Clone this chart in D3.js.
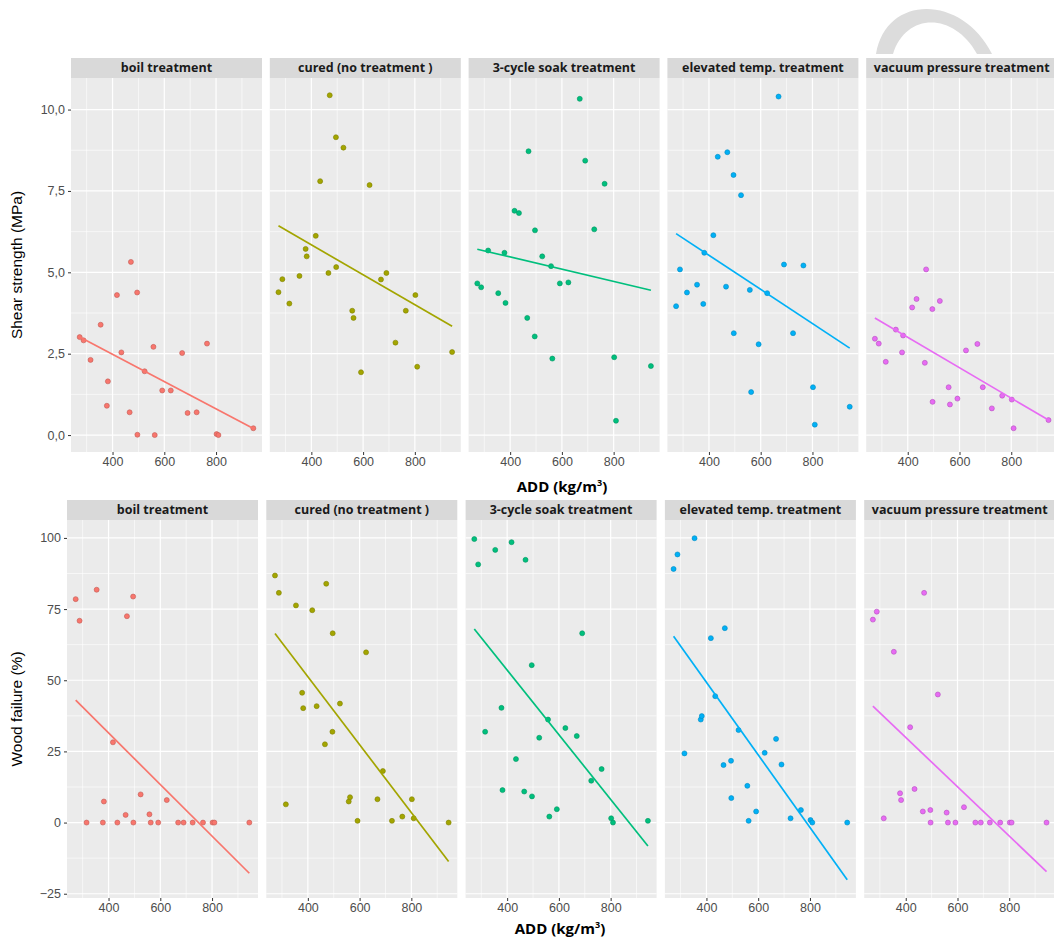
<!DOCTYPE html>
<html><head><meta charset="utf-8">
<script src="https://cdnjs.cloudflare.com/ajax/libs/d3/7.8.5/d3.min.js"></script>
<style>
html,body{margin:0;padding:0;background:#fff;}
svg{display:block;}
</style></head>
<body><svg id="chart" width="1054" height="941"></svg>
<script>
// ---------- data ----------
const treatments = ["boil treatment","cured (no treatment )","3-cycle soak treatment","elevated temp. treatment","vacuum pressure treatment"];
const colors = ["#F8766D","#A3A500","#00BF7D","#00B0F6","#E76BF3"];
const add = [273,288,315,354,378,382,417,434,466,471,495,496,524,558,563,592,625,669,690,725,765,802,809,944];

const shearBoil  = [3.01,2.91,2.31,3.39,0.90,1.65,4.30,2.54,0.70,5.32,4.38,0.01,1.96,2.71,0,1.37,1.37,2.52,0.68,0.70,2.81,0.03,0,0.21];
const shearCured = [4.39,4.79,4.04,4.89,5.72,5.49,6.12,7.80,4.98,10.44,9.15,5.16,8.83,3.82,3.60,1.93,7.68,4.78,4.98,2.84,3.82,4.30,2.10,2.55];
const shearSoak  = [4.66,4.54,5.67,4.36,5.60,4.06,6.89,6.82,3.60,8.72,3.03,6.29,5.49,5.19,2.35,4.66,4.69,10.33,8.43,6.32,7.72,2.39,0.44,2.12];
const shearElev  = [3.96,5.09,4.38,4.62,4.03,5.60,6.14,8.55,4.56,8.69,7.99,3.13,7.37,4.46,1.32,2.79,4.36,10.40,5.24,3.13,5.21,1.47,0.32,0.87];
const shearVac   = [2.96,2.81,2.25,3.24,2.54,3.06,3.92,4.18,2.22,5.09,3.87,1.02,4.12,1.47,0.94,1.12,2.60,2.80,1.47,0.82,1.21,1.09,0.21,0.46];

const woodBoil  = [78.5,70.9,0,81.8,0,7.4,28.2,0,2.7,72.5,79.4,0,9.9,2.9,0,0,7.9,0,0,0,0,0,0,0];
const woodCured = [86.8,80.7,6.4,76.3,45.6,40.2,74.6,40.9,27.5,83.9,31.9,66.5,41.8,7.4,8.9,0.6,59.8,8.2,18.1,0.6,2.1,8.2,1.5,0];
const woodSoak  = [99.6,90.7,31.9,95.8,40.3,11.4,98.5,22.3,10.9,92.3,55.3,9.2,29.8,36.2,2.1,4.7,33.2,30.4,66.5,14.7,18.8,1.5,0,0.6];
const woodElev  = [89.1,94.2,24.3,99.9,36.2,37.4,64.8,44.4,20.2,68.3,21.7,8.6,32.5,12.9,0.6,3.9,24.5,29.4,20.4,1.5,4.4,0.9,0,0];
const woodVac   = [71.3,74.1,1.5,60.0,10.3,7.9,33.5,11.8,3.9,80.7,4.4,0,45.0,3.5,0,0,5.4,0,0,0,0,0,0,0];

// fitted (lm) line values at min and max ADD
const shearFitStart = [3.01,6.43,5.71,6.19,3.60];
const shearFitEnd   = [0.20,3.34,4.45,2.67,0.46];
const woodFitStart  = [43.0,66.4,68.0,65.5,40.9];
const woodFitEnd    = [-17.8,-13.7,-8.2,-20.1,-17.2];

const xTicks = [400,600,800];
const xMinor = [300,500,700,900];
const shearTicks = [0,2.5,5,7.5,10];
const woodTicks = [-25,0,25,50,75,100];

// ---------- drawing ----------
const svg = d3.select("#chart");

// light gray arc mark at top right
svg.append("path")
  .attr("d","M876,54 C886,-6 962,-6 992,54 L977,54 C954,12 906,12 893,54 Z")
  .attr("fill","#dcdcdc");

const xExt = d3.extent(add);
const xPad = (xExt[1]-xExt[0])*0.05;
const xDomain = [xExt[0]-xPad, xExt[1]+xPad];
const tickFont = "'Liberation Sans', Arial, sans-serif";

function drawRow(cfg){
  const g = svg.append("g");
  const y = d3.scaleLinear().domain(cfg.yDomain).range([cfg.top+cfg.h, cfg.top]);
  cfg.series.forEach((vals,i)=>{
    const x0 = cfg.x0 + i*cfg.step;
    const x = d3.scaleLinear().domain(xDomain).range([x0, x0+cfg.w]);
    const p = g.append("g");
    // strip
    p.append("rect").attr("x",x0).attr("y",cfg.top-cfg.stripH).attr("width",cfg.w).attr("height",cfg.stripH).attr("fill","#D9D9D9");
    p.append("text").attr("x",x0+cfg.w/2).attr("y",cfg.top-cfg.stripH/2).attr("dy","0.35em")
      .attr("text-anchor","middle").attr("font-family","'Open Sans', sans-serif").attr("font-weight","700")
      .attr("font-size","12.5px").attr("fill","#1A1A1A").text(treatments[i]);
    // panel
    p.append("rect").attr("x",x0).attr("y",cfg.top).attr("width",cfg.w).attr("height",cfg.h).attr("fill","#EBEBEB");
    // minor grid
    p.selectAll(".ymin").data(cfg.yMinor).join("line")
      .attr("x1",x0).attr("x2",x0+cfg.w).attr("y1",d=>y(d)).attr("y2",d=>y(d))
      .attr("stroke","#fff").attr("stroke-width",0.6);
    p.selectAll(".xmin").data(xMinor).join("line")
      .attr("y1",cfg.top).attr("y2",cfg.top+cfg.h).attr("x1",d=>x(d)).attr("x2",d=>x(d))
      .attr("stroke","#fff").attr("stroke-width",0.6);
    // major grid
    p.selectAll(".ymaj").data(cfg.yTicks).join("line")
      .attr("x1",x0).attr("x2",x0+cfg.w).attr("y1",d=>y(d)).attr("y2",d=>y(d))
      .attr("stroke","#fff").attr("stroke-width",1.2);
    p.selectAll(".xmaj").data(xTicks).join("line")
      .attr("y1",cfg.top).attr("y2",cfg.top+cfg.h).attr("x1",d=>x(d)).attr("x2",d=>x(d))
      .attr("stroke","#fff").attr("stroke-width",1.2);
    // points
    p.selectAll("circle").data(vals.map((v,k)=>[add[k],v])).join("circle")
      .attr("cx",d=>x(d[0])).attr("cy",d=>y(d[1])).attr("r",2.5)
      .attr("fill",colors[i]).attr("stroke",d3.color(colors[i]).darker(0.7)).attr("stroke-width",0.6);
    // fit line
    const fit = [[xExt[0],cfg.fitStart[i]],[xExt[1],cfg.fitEnd[i]]];
    p.append("path").datum(fit)
      .attr("d",d3.line().x(d=>x(d[0])).y(d=>y(d[1])))
      .attr("stroke",colors[i]).attr("stroke-width",1.7).attr("fill","none");
    // x axis
    const ax = p.append("g").attr("transform",`translate(0,${cfg.top+cfg.h})`)
      .call(d3.axisBottom(x).tickValues(xTicks).tickSize(3).tickPadding(2));
    ax.select(".domain").remove();
    ax.selectAll("line").attr("stroke","#333");
    ax.selectAll("text").attr("font-family",tickFont).attr("font-size","12.5px").attr("fill","#4D4D4D");
    if(i===0){
      const ay = p.append("g").attr("transform",`translate(${x0},0)`)
        .call(d3.axisLeft(y).tickValues(cfg.yTicks).tickSize(3).tickPadding(3).tickFormat(cfg.fmt));
      ay.select(".domain").remove();
      ay.selectAll("line").attr("stroke","#333");
      ay.selectAll("text").attr("font-family",tickFont).attr("font-size","12.5px").attr("fill","#4D4D4D");
    }
  });
  // y title
  svg.append("text").attr("transform",`translate(22,${cfg.top+cfg.h/2}) rotate(-90)`)
    .attr("text-anchor","middle").attr("font-family",tickFont)
    .attr("font-size","15.5px").attr("fill","#000").text(cfg.yTitle);
  // x title
  const xt = svg.append("text").attr("x",cfg.xTitleX).attr("y",cfg.xTitleY)
    .attr("text-anchor","middle").attr("font-family","'Open Sans', sans-serif").attr("font-weight","700")
    .attr("font-size","15px").attr("fill","#000");
  xt.append("tspan").text("ADD (kg/m");
  xt.append("tspan").attr("baseline-shift","super").attr("font-size","9px").text("3");
  xt.append("tspan").text(")");
}

const commaFmt = d => d3.format(".1f")(d).replace(".", ",");

drawRow({
  series:[shearBoil,shearCured,shearSoak,shearElev,shearVac],
  fitStart:shearFitStart, fitEnd:shearFitEnd,
  yDomain:[-0.52,10.97], yTicks:shearTicks, yMinor:[1.25,3.75,6.25,8.75],
  fmt:commaFmt, yTitle:"Shear strength (MPa)",
  x0:71, step:198.8, w:191, top:78, h:374, stripH:20,
  xTitleX:562, xTitleY:492
});
drawRow({
  series:[woodBoil,woodCured,woodSoak,woodElev,woodVac],
  fitStart:woodFitStart, fitEnd:woodFitEnd,
  yDomain:[-26.5,106.3], yTicks:woodTicks, yMinor:[-12.5,12.5,37.5,62.5,87.5],
  fmt:d3.format("d"), yTitle:"Wood failure (%)",
  x0:67, step:199.3, w:191, top:520, h:378, stripH:20,
  xTitleX:560, xTitleY:934
});
</script>
</body></html>
